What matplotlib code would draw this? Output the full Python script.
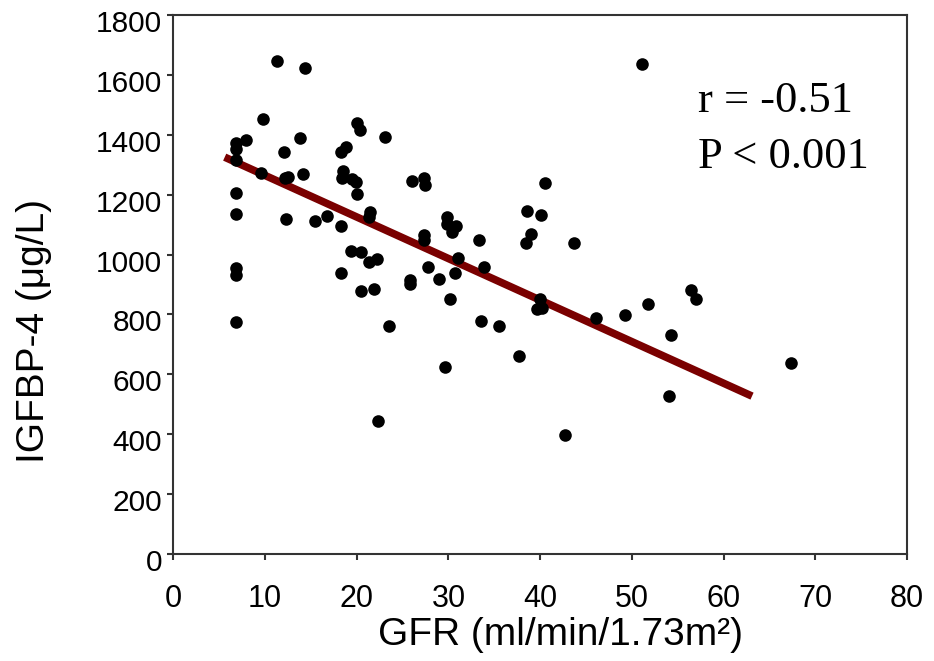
import matplotlib

matplotlib.use("Agg")
import matplotlib.pyplot as plt
import matplotlib.transforms as mtransforms
import numpy as np

# GFR (ml/min/1.73m²) vs IGFBP-4 (µg/L)
gfr = [11.35, 14.35, 9.8, 6.87, 6.87, 6.87, 7.93, 6.87, 6.87, 6.87,
       6.87, 6.87, 12.1, 13.85, 9.53, 12.15, 12.55, 14.15, 12.25, 15.44,
       16.74, 18.28, 18.33, 18.83, 20.03, 20.32, 23.11, 18.53, 18.43, 19.43,
       19.93, 20.03, 21.42, 21.32, 26.0, 27.3, 27.4, 27.3, 27.3, 27.8,
       19.38, 20.42, 21.32, 22.17, 18.33, 20.42, 21.92, 25.8, 25.8, 23.51,
       22.32, 40.56, 29.89, 29.89, 30.79, 30.39, 33.38, 38.56, 40.06, 38.96,
       38.46, 43.65, 31.09, 33.88, 28.99, 30.69, 30.19, 39.96, 39.66, 40.16,
       33.58, 35.47, 46.14, 49.23, 51.72, 37.67, 29.59, 42.75, 51.07, 56.5,
       57.0, 54.31, 67.32, 54.01]
igfbp4 = [1648, 1623, 1452, 1372, 1352, 1317, 1382, 1204, 1134, 954,
          931, 776, 1344, 1390, 1274, 1255, 1260, 1268, 1119, 1112,
          1130, 1096, 1344, 1360, 1438, 1416, 1394, 1279, 1257, 1252,
          1241, 1201, 1143, 1126, 1244, 1255, 1233, 1065, 1049, 959,
          1012, 1008, 975, 986, 940, 878, 884, 915, 900, 760,
          445, 1238, 1126, 1102, 1095, 1076, 1047, 1147, 1133, 1069,
          1040, 1038, 990, 959, 917, 937, 851, 851, 817, 821,
          778, 760, 787, 798, 834, 662, 623, 399, 1636, 881,
          851, 732, 639, 528]

# regression line
fit_intercept = 1403.0
fit_slope = -13.88
fit_range = [5.6, 63.1]
stats_text = ["r = -0.51", "P < 0.001"]

x_ticks = [0, 10, 20, 30, 40, 50, 60, 70, 80]
y_ticks = [0, 200, 400, 600, 800, 1000, 1200, 1400, 1600, 1800]

SANS = ["Liberation Sans", "DejaVu Sans"]
SERIF = ["Liberation Serif", "DejaVu Serif"]

fig = plt.figure(figsize=(9.34, 6.61), dpi=100)
ax = fig.add_axes([0.1856, 0.1619, 0.7855, 0.8154])

ax.scatter(gfr, igfbp4, s=82, color="black", linewidths=0, zorder=3)

fx = np.array(fit_range)
ax.plot(fx, fit_intercept + fit_slope * fx, color="#7a0000", lw=5.5,
        solid_capstyle="butt", zorder=2)

ax.text(57.2, 1477, stats_text[0], family=SERIF, fontsize=32, va="baseline")
ax.text(57.2, 1290, stats_text[1], family=SERIF, fontsize=32, va="baseline")

ax.set_xlim(0, 80)
ax.set_ylim(0, 1800)
ax.set_xticks(x_ticks)
ax.set_yticks(y_ticks)
ax.set_xticklabels([str(t) for t in x_ticks], family=SANS, fontsize=22)
ax.set_yticklabels([str(t) for t in y_ticks], family=SANS, fontsize=21.5)

for s in ax.spines.values():
    s.set_linewidth(1.5)
    s.set_color("#333333")
ax.tick_params(axis="both", direction="out", length=4.5, width=1.5, color="#333333")
ax.tick_params(axis="x", pad=17)
ax.tick_params(axis="y", pad=3.5)

# excel puts the y labels a bit below the ticks
off = mtransforms.ScaledTranslation(0, -6 / 100, fig.dpi_scale_trans)
for lab in ax.get_yticklabels():
    lab.set_transform(lab.get_transform() + off)

ax.set_xlabel("GFR (ml/min/1.73m²)", family=SANS, fontsize=28)
ax.set_ylabel("IGFBP-4 (μg/L)", family=SANS, fontsize=28)
ax.xaxis.set_label_coords(0.528, -0.117)
ax.yaxis.set_label_coords(-0.166, 0.414)

fig.savefig("out.png", dpi=100)
